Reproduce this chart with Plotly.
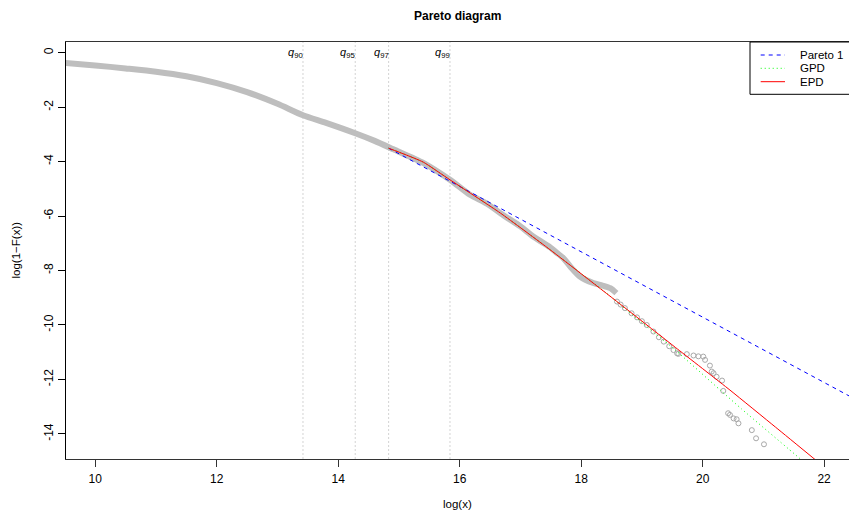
import plotly.graph_objects as go

# ---------------- data ----------------
emp_band_x = [9.40, 10.0, 10.5, 11.0, 11.5, 12.0, 12.5, 13.0, 13.42, 13.8, 14.28, 14.6, 14.91,
              15.40, 15.84, 16.17, 16.45, 16.72, 17.0, 17.21, 17.49, 17.6, 17.71, 17.82, 17.98,
              18.20, 18.35, 18.48, 18.58]
emp_band_y = [-0.36, -0.47, -0.58, -0.70, -0.87, -1.12, -1.45, -1.88, -2.30, -2.58, -2.96, -3.24, -3.55,
              -4.05, -4.67, -5.22, -5.55, -5.97, -6.38, -6.75, -7.15, -7.35, -7.55, -7.85, -8.22,
              -8.46, -8.55, -8.65, -8.83]

emp_tail_x = [18.59, 18.65, 18.72, 18.83, 18.92, 19.00, 19.08, 19.19, 19.28, 19.36, 19.45, 19.52,
              19.58, 19.60, 19.74, 19.85, 19.93, 20.01, 20.04, 20.12, 20.15, 20.18, 20.23, 20.32,
              20.34, 20.42, 20.45, 20.51, 20.56, 20.59, 20.81, 20.88, 21.01]
emp_tail_y = [-9.14, -9.25, -9.38, -9.57, -9.72, -9.86, -10.00, -10.24, -10.45, -10.61, -10.78, -10.92,
              -11.04, -11.06, -11.07, -11.12, -11.15, -11.16, -11.28, -11.49, -11.71, -11.77, -11.90, -12.04,
              -12.42, -13.24, -13.30, -13.43, -13.46, -13.61, -13.86, -14.16, -14.38]

pareto_x = [14.83, 22.50]
pareto_y = [-3.51, -12.71]

epd_x = [14.83, 15.10, 15.40, 15.84, 16.67, 17.49, 18.75, 19.55, 20.45, 21.20, 21.95]
epd_y = [-3.51, -3.74, -4.02, -4.67, -5.89, -7.24, -9.42, -10.82, -12.39, -13.75, -15.12]

gpd_x = [14.83, 15.10, 15.40, 15.84, 16.67, 17.49, 18.40, 18.75, 19.55, 20.29, 20.64, 21.60, 21.68]
gpd_y = [-3.51, -3.74, -4.02, -4.67, -5.89, -7.24, -8.80, -9.45, -10.92, -12.39, -13.08, -14.90, -15.05]

q_labels = ["90", "95", "97", "99"]
q_values = [13.42, 14.28, 14.83, 15.84]

legend_labels = ["Pareto 1", "GPD", "EPD"]

x_ticks = [10, 12, 14, 16, 18, 20, 22]
y_ticks = [0, -2, -4, -6, -8, -10, -12, -14]

# ---------------- layout geometry ----------------
W, H = 849, 517
L, R, T, B = 66, 0, 42, 58
PW, PH = W - L - R, H - T - B
FONT = "Liberation Sans, Arial, Helvetica, sans-serif"


def px(xp):
    return (xp - L) / PW


def py(yp):
    return (H - B - yp) / PH


fig = go.Figure()

fig.add_trace(go.Scatter(x=emp_band_x, y=emp_band_y, mode="lines",
                         line=dict(color="#BEBEBE", width=6, shape="spline", smoothing=0.7),
                         showlegend=False, hoverinfo="skip"))
fig.add_trace(go.Scatter(x=emp_tail_x, y=emp_tail_y, mode="markers",
                         marker=dict(symbol="circle-open", size=5, color="#A8A8A8",
                                     line=dict(width=1, color="#A8A8A8")),
                         showlegend=False))
fig.add_trace(go.Scatter(x=pareto_x, y=pareto_y, mode="lines",
                         line=dict(color="#0000FF", width=1, dash="4px,4px"), showlegend=False))
fig.add_trace(go.Scatter(x=gpd_x, y=gpd_y, mode="lines",
                         line=dict(color="#00FF00", width=1, dash="1px,3px", shape="spline",
                                   smoothing=0.5), showlegend=False))
fig.add_trace(go.Scatter(x=epd_x, y=epd_y, mode="lines",
                         line=dict(color="#FF0000", width=1, shape="spline", smoothing=0.5),
                         showlegend=False))

shapes = []
annotations = []
for lab, qv in zip(q_labels, q_values):
    shapes.append(dict(type="line", xref="x", yref="paper", x0=qv, x1=qv, y0=0, y1=1,
                       line=dict(color="#D3D3D3", width=1, dash="2px,2px"), layer="below"))
    annotations.append(dict(xref="x", yref="paper", x=qv, y=py(53), xanchor="right", yanchor="middle",
                            xshift=2, showarrow=False,
                            text="<i>q</i><sub>" + lab + "</sub>",
                            font=dict(family=FONT, size=11, color="black")))

# legend box (manual, R style)
shapes.append(dict(type="rect", xref="paper", yref="paper", x0=px(750), x1=px(870),
                   y0=py(94.3), y1=py(42), line=dict(color="black", width=1),
                   fillcolor="white", layer="above"))
leg_styles = [dict(color="#0000FF", width=1, dash="4px,4px"),
              dict(color="#00FF00", width=1, dash="1px,3px"),
              dict(color="#FF0000", width=1)]
leg_y = [55, 68.3, 81.7]
for lab, st, yy in zip(legend_labels, leg_styles, leg_y):
    shapes.append(dict(type="line", xref="paper", yref="paper", x0=px(760.7), x1=px(785),
                       y0=py(yy), y1=py(yy), line=st, layer="above"))
    annotations.append(dict(xref="paper", yref="paper", x=px(798), y=py(yy), xanchor="left",
                            yanchor="middle", showarrow=False, text=lab,
                            font=dict(family=FONT, size=11.5, color="black")))

# titles
annotations.append(dict(xref="paper", yref="paper", x=0.5, y=py(16), xanchor="center", yanchor="middle",
                        showarrow=False, text="<b>Pareto diagram</b>",
                        font=dict(family=FONT, size=12, color="black")))
annotations.append(dict(xref="paper", yref="paper", x=0.5, y=py(504), xanchor="center", yanchor="middle",
                        showarrow=False, text="log(x)", font=dict(family=FONT, size=11.5, color="black")))
annotations.append(dict(xref="paper", yref="paper", x=px(15), y=0.5, xanchor="center", yanchor="middle",
                        showarrow=False, text="log(1\u2212F(x))", textangle=-90,
                        font=dict(family=FONT, size=11.5, color="black")))

fig.update_layout(
    width=W, height=H,
    margin=dict(l=L, r=R, t=T, b=B, pad=0),
    plot_bgcolor="white", paper_bgcolor="white",
    shapes=shapes, annotations=annotations,
    showlegend=False,
    xaxis=dict(range=[9.518, 22.41], tickvals=x_ticks, ticktext=[str(v) for v in x_ticks],
               showgrid=False, zeroline=False, showline=True, linecolor="#333333", linewidth=1,
               mirror=True, ticks="outside", ticklen=7, tickcolor="#333333",
               ticklabelstandoff=2,
               tickfont=dict(family=FONT, size=12, color="black")),
    yaxis=dict(range=[-14.92, 0.39], tickvals=y_ticks, ticktext=[str(v) for v in y_ticks],
               showgrid=False, zeroline=False, showline=True, linecolor="black", linewidth=1,
               ticks="outside", ticklen=7, tickcolor="black", tickangle=-90,
               tickfont=dict(family=FONT, size=12, color="black")),
)

fig.write_html("out.html")
